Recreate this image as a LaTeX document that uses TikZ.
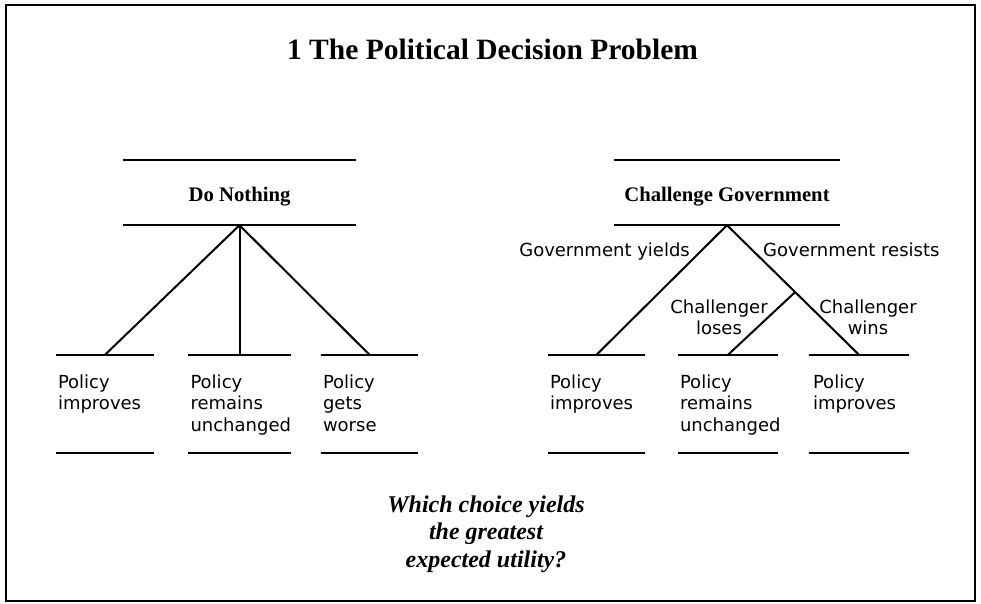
\documentclass[tikz,border=0pt]{standalone}
\usepackage{fontspec}
\setmainfont{Liberation Serif}
\newfontfamily\lblfont{DejaVu Sans}
\usetikzlibrary{calc}
\begin{document}
\begin{tikzpicture}[x=1pt,y=-1pt,
  rule/.style={line width=2pt},
  branch/.style={line width=2pt},
  frame/.style={line width=2pt},
  titletext/.style={font=\fontsize{29.5}{34}\selectfont\bfseries, inner sep=0, anchor=base},
  choice/.style={font=\fontsize{20.7}{24}\selectfont\bfseries, inner sep=0,
    minimum height=65, text height=24pt, text depth=6pt},
  leaf/.style={inner sep=0, minimum height=98},
  leaftext/.style={anchor=north west, inner sep=0, align=left,
    font=\fontsize{18}{21.5}\selectfont\lblfont, xshift=2pt, yshift=-19.5pt},
  edgelabel/.style={inner sep=0, font=\fontsize{18}{21}\selectfont\lblfont},
  question/.style={inner sep=0, align=center,
    font=\fontsize{24}{27.5}\selectfont\bfseries\itshape}
]
\useasboundingbox (0,0) rectangle (981,603);

% outer frame
\draw[frame] (6,5) rectangle (975,601);

% heading
\node[titletext] (title) at (492.5,59) {1 The Political Decision Problem};

% decision: do nothing
\node[choice, minimum width=233] (dn) at (239.5,192.5) {Do Nothing};
\node[leaf, minimum width=98]  (l1) at (105,404) {};
\node[leaf, minimum width=102] (l2) at (239.5,404) {};
\node[leaf, minimum width=97]  (l3) at (369.5,404) {};

% decision: challenge government
\node[choice, minimum width=226] (cg) at (727,192.5) {Challenge Government};
\node[leaf, minimum width=97]  (r1) at (596.5,404) {};
\node[leaf, minimum width=100] (r2) at (728,404) {};
\node[leaf, minimum width=100] (r3) at (859,404) {};

% outcome texts
\node[leaftext] (t1) at (l1.north west) {Policy\\improves};
\node[leaftext] (t2) at (l2.north west) {Policy\\remains\\unchanged};
\node[leaftext] (t3) at (l3.north west) {Policy\\gets\\worse};
\node[leaftext] (t4) at (r1.north west) {Policy\\improves};
\node[leaftext] (t5) at (r2.north west) {Policy\\remains\\unchanged};
\node[leaftext, xshift=2pt] (t6) at (r3.north west) {Policy\\improves};

% rules above and below each box
\foreach \n in {dn,cg,l1,l2,l3,r1,r2,r3}
  \draw[rule] (\n.north west) -- (\n.north east)
              (\n.south west) -- (\n.south east);

% branches of the first tree
\draw[branch] (dn.south) -- (l1.north);
\draw[branch] (dn.south) -- (l2.north);
\draw[branch] (dn.south) -- (l3.north);

% branches of the second tree
\draw[branch] (cg.south) -- (r1.north);
\draw[branch] (cg.south) -- (r3.north);
\coordinate (fork) at ($(cg.south)!0.516!(r3.north)$);
\draw[branch] (fork) -- (r2.north);

% branch labels
\node[edgelabel, anchor=base east] (gy) at (690,256) {Government yields};
\node[edgelabel, anchor=base west] (gr) at (763,256) {Government resists};
\node[edgelabel, anchor=north, align=center] (cl) at (719,299.5) {Challenger\\loses};
\node[edgelabel, anchor=north, align=center] (cw) at (868,299.5) {Challenger\\wins};

% closing question (base anchor sits on the last line)
\node[question, anchor=base] (q) at (486,567) {Which choice yields\\the greatest\\expected utility?};
\end{tikzpicture}
\end{document}
